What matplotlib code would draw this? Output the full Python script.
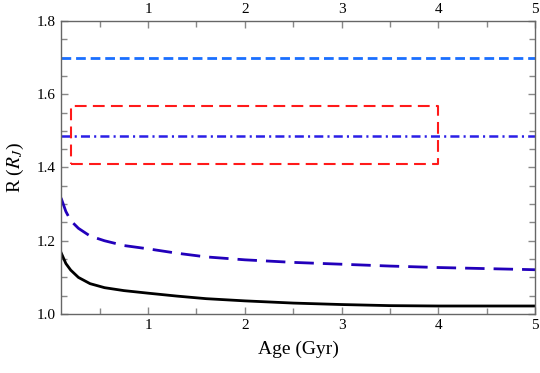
import numpy as np
import matplotlib.pyplot as plt
from matplotlib.ticker import MultipleLocator

plt.rcParams['font.family'] = ['Liberation Serif', 'DejaVu Serif']
plt.rcParams['mathtext.fontset'] = 'stix'
plt.rcParams['lines.scale_dashes'] = False

# curves
age = [0.1, 0.15, 0.2, 0.28, 0.4, 0.55, 0.75, 1.0, 1.3, 1.6, 2.0, 2.5,
       3.0, 3.5, 4.0, 4.5, 5.0]
r_solid = [1.168, 1.138, 1.120, 1.100, 1.083, 1.072, 1.064, 1.057, 1.049,
           1.042, 1.036, 1.030, 1.026, 1.023, 1.022, 1.022, 1.022]
r_longdash = [1.317, 1.280, 1.255, 1.234, 1.213, 1.200, 1.187, 1.178, 1.166,
              1.156, 1.148, 1.141, 1.136, 1.131, 1.127, 1.124, 1.121]

r_top = 1.70
r_dashdot = 1.486
box_age = [0.2, 4.0]
box_r = [1.41, 1.569]

fig = plt.figure(figsize=(5.4, 3.73), dpi=100, facecolor='white')
ax = fig.add_axes([0.113, 0.158, 0.878, 0.786])

ax.axhline(r_top, color='#1a6fff', linewidth=2.0, dashes=(7, 3.5))
ax.axhline(r_dashdot, color='#2a1fe6', linewidth=1.8, dashes=(6.5, 3, 1.5, 3))
bx = [box_age[0], box_age[1], box_age[1], box_age[0], box_age[0]]
by = [box_r[0], box_r[0], box_r[1], box_r[1], box_r[0]]
ax.plot(bx, by, color='#ff1a1a', linewidth=1.5, dashes=(8.5, 4.5))
ax.plot(age, r_longdash, color='#2200bb', linewidth=2.0, dashes=(14, 6.5))
ax.plot(age, r_solid, color='black', linewidth=2.0)

ax.set_xlim(0.1, 5)
ax.set_ylim(1.0, 1.8)
ax.xaxis.set_major_locator(MultipleLocator(1))
ax.xaxis.set_minor_locator(MultipleLocator(0.5))
ax.yaxis.set_major_locator(MultipleLocator(0.2))
ax.yaxis.set_minor_locator(MultipleLocator(0.05))
ax.yaxis.set_major_formatter(plt.FuncFormatter(lambda v, p: f"{v:.1f}"))

ax.tick_params(which='both', direction='in', top=True, right=True,
               labeltop=True, color='#888888', width=1.0, labelsize=11)
ax.tick_params(which='major', length=5)
ax.tick_params(which='minor', length=4)
for s in ax.spines.values():
    s.set_color('#666666')
    s.set_linewidth(1.0)

ax.set_xlabel("Age (Gyr)", fontsize=14, labelpad=6)
ax.set_ylabel(r"R ($R_J$)", fontsize=14, labelpad=8)

fig.savefig("out.png", dpi=100, facecolor='white')
